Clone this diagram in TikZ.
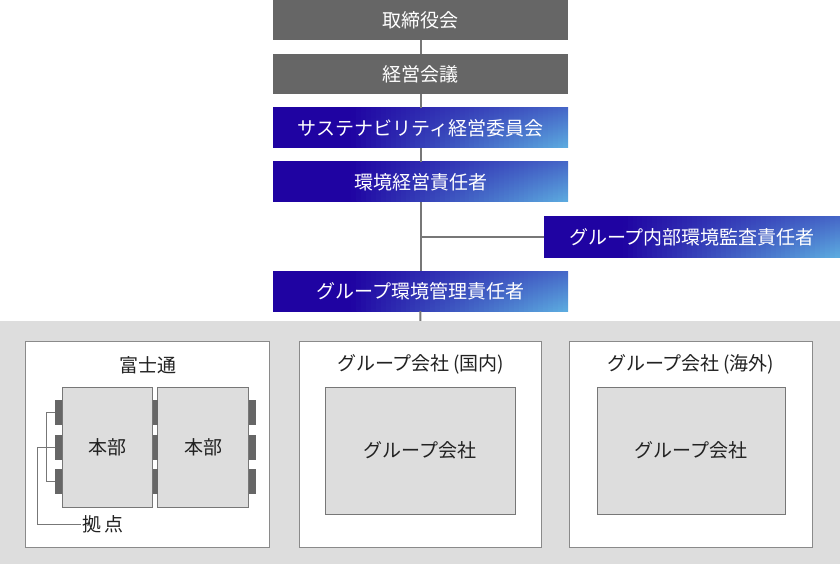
\documentclass[tikz,border=0pt]{standalone}
\usepackage{fontspec}
\setmainfont{Noto Sans CJK JP}
\usetikzlibrary{calc}
\definecolor{boxgray}{HTML}{666666}
\definecolor{linegray}{HTML}{777777}
\definecolor{bggray}{HTML}{DDDDDD}
\definecolor{framegray}{HTML}{8A8A8A}
\definecolor{txt}{HTML}{222222}
\definecolor{gdark}{HTML}{1F03A2}
\definecolor{gmid}{HTML}{4668C8}
\definecolor{glight}{HTML}{5DADE0}
\newcommand\jpfont{\fontsize{19bp}{22bp}\selectfont}
\tikzset{
  topbox/.style={draw=none, minimum width=295bp, minimum height=40bp, inner sep=0pt, text=white, font=\jpfont},
  graybox/.style={topbox, fill=boxgray},
  bluebox/.style={topbox, fill=gdark, path picture={
      \path (path picture bounding box.south west) coordinate (ppsw)
            (path picture bounding box.north east) coordinate (ppne)
            (path picture bounding box.south east) coordinate (ppse);
      \foreach \i in {0,...,59}{
        \pgfmathsetmacro\gua{\i/60}
        \pgfmathsetmacro\gub{(\i+1.6)/60}
        \pgfmathsetmacro\gmx{100*(max(0,((\i+0.5)/60-0.27)/0.73))^0.9}
        \path ($(ppsw)!\gua!(ppse)$) coordinate (qa) ($(ppsw)!\gub!(ppse)$) coordinate (qb);
        \shade[top color=gmid!\gmx!gdark, bottom color=glight!\gmx!gdark]
          (qa) rectangle (qb |- ppne);
      }
    }},
  conn/.style={draw=linegray, line width=2bp},
  frame/.style={draw=framegray, line width=1bp, fill=white, inner sep=0pt},
  inner/.style={draw=linegray, line width=1bp, fill=bggray, inner sep=0pt, text=txt, font=\jpfont},
  site/.style={fill=boxgray, draw=none, inner sep=0pt, minimum height=25bp},
  lbl/.style={text=txt, font=\jpfont, inner sep=1bp},
  br/.style={draw=linegray, line width=1bp}
}
\begin{document}
\begin{tikzpicture}[x=1bp, y=-1bp]
\useasboundingbox (0,0) rectangle (840,564);
% background
\node[fill=bggray, draw=none, minimum width=840bp, minimum height=243bp, inner sep=0pt] (bg) at (420,442.5) {};
% top chain
\node[graybox] (b1) at (420.5,20) {取締役会};
\node[graybox] (b2) at (420.5,74) {経営会議};
\node[bluebox] (b3) at (420.5,128) {サステナビリティ経営委員会};
\node[bluebox] (b4) at (420.5,182) {環境経営責任者};
\node[bluebox, minimum width=296bp] (audit) at (692,237) {グループ内部環境監査責任者};
\node[bluebox] (b6) at (420.5,291) {グループ環境管理責任者};
\coordinate (j) at (b4.south |- audit.west);
\draw[conn] (b1) -- (b2);
\draw[conn] (b2) -- (b3);
\draw[conn] (b3) -- (b4);
\draw[conn] (b4) -- (b6);
\draw[conn] (j) -- (audit);
\draw[conn] (b6) -- (bg);
% three frames
\node[frame, minimum width=243bp, minimum height=206bp] (fuji) at (147.5,444) {};
\node[frame, minimum width=242.5bp, minimum height=206bp] (dom) at (420.25,444) {};
\node[frame, minimum width=243bp, minimum height=206bp] (ovs) at (690.5,444) {};
\node[lbl] (fujit) at (148,365) {富士通};
\node[lbl] (domt) at (420.5,364) {グループ会社\,(国内)};
\node[lbl] (ovst) at (690.5,364) {グループ会社\,(海外)};
% inner boxes
\node[inner, minimum width=189.5bp, minimum height=127bp] (din) at (420.25,450.5) {グループ会社};
\node[inner, minimum width=188.5bp, minimum height=127bp] (oin) at (691.25,450.5) {グループ会社};
\node[inner, minimum width=90.5bp, minimum height=120bp] (hb1) at (107.25,447) {本部};
\node[inner, minimum width=91bp, minimum height=120bp] (hb2) at (203,447) {本部};
% sites
\node[site, minimum width=7bp] (l1) at (58.5,412.5) {};
\node[site, minimum width=7bp] (l2) at (58.5,447.5) {};
\node[site, minimum width=7bp] (l3) at (58.5,481.5) {};
\node[site, minimum width=5bp] (m1) at (155,412.5) {};
\node[site, minimum width=5bp] (m2) at (155,447.5) {};
\node[site, minimum width=5bp] (m3) at (155,481.5) {};
\node[site, minimum width=7.5bp] (r1) at (252.25,412.5) {};
\node[site, minimum width=7.5bp] (r2) at (252.25,447.5) {};
\node[site, minimum width=7.5bp] (r3) at (252.25,481.5) {};
% bracket
\coordinate (bx) at (46.5,0);
\coordinate (kx) at (37.5,0);
\node[lbl, anchor=west] (kyo) at (81,524) {拠\hspace{3bp}点};
\draw[br] (l1.west) -- (l1.west -| bx) -- (l3.west -| bx) -- (l3.west);
\draw[br] (l2.west) -- (l2.west -| kx) |- (kyo.west);
\end{tikzpicture}
\end{document}
